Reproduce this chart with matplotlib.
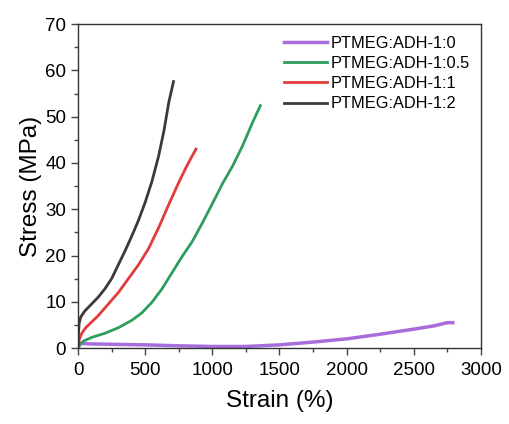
import matplotlib
matplotlib.use("Agg")

import matplotlib.pyplot as plt
from matplotlib.ticker import MultipleLocator

plt.rcParams["font.family"] = ["Liberation Sans", "DejaVu Sans"]

# strain (%) / stress (MPa)
strain_0 = [0, 20, 100, 300, 500, 750, 1000, 1250, 1500, 1750, 2000, 2250, 2500, 2650, 2750, 2790]
stress_0 = [0.3, 1.0, 0.9, 0.8, 0.7, 0.5, 0.35, 0.35, 0.7, 1.3, 2.0, 3.0, 4.1, 4.8, 5.5, 5.5]

strain_05 = [0, 15, 40, 100, 200, 300, 400, 475, 550, 625, 700, 775, 850, 925, 1000,
             1075, 1150, 1225, 1300, 1358]
stress_05 = [0, 0.8, 1.5, 2.3, 3.2, 4.4, 6.0, 7.6, 9.9, 12.8, 16.3, 19.8, 23.0, 27.0, 31.2,
             35.5, 39.3, 43.7, 48.8, 52.4]

strain_1 = [0, 10, 30, 60, 100, 150, 225, 300, 375, 450, 525, 600, 675, 750, 800, 840, 878]
stress_1 = [0, 2.0, 3.3, 4.5, 5.6, 7.0, 9.5, 12.0, 15.0, 18.0, 21.5, 26.0, 31.0, 35.8, 38.8, 41.0, 43.0]

strain_2 = [0, 3, 8, 20, 50, 100, 150, 200, 250, 300, 350, 400, 450, 500, 550, 600, 640, 675, 711]
stress_2 = [0, 3.0, 5.3, 6.7, 8.0, 9.5, 11.0, 12.8, 15.0, 18.0, 21.0, 24.2, 27.6, 31.5, 36.0,
            41.5, 47.0, 53.0, 57.6]

labels = ["PTMEG:ADH-1:0", "PTMEG:ADH-1:0.5", "PTMEG:ADH-1:1", "PTMEG:ADH-1:2"]
colors = ["#a66ddb", "#2e9e5e", "#e23b3b", "#3a3a3a"]


def main():
    fig = plt.figure(figsize=(5.1, 4.24), dpi=100)
    ax = fig.add_axes([0.153, 0.179, 0.79, 0.764])

    series = [(strain_0, stress_0), (strain_05, stress_05), (strain_1, stress_1), (strain_2, stress_2)]
    for (x, y), lab, c in zip(series, labels, colors):
        lw = 2.5 if c == colors[0] else 2.0
        ax.plot(x, y, color=c, lw=lw, label=lab)

    ax.set_xlim(0, 3000)
    ax.set_ylim(0, 70)
    ax.xaxis.set_major_locator(MultipleLocator(500))
    ax.xaxis.set_minor_locator(MultipleLocator(250))
    ax.yaxis.set_major_locator(MultipleLocator(10))
    ax.yaxis.set_minor_locator(MultipleLocator(5))
    ax.tick_params(which="major", direction="out", length=5, width=1, labelsize=13.5, color="#444444")
    ax.tick_params(which="minor", direction="out", length=3, width=1, color="#444444")
    ax.tick_params(axis="x", pad=5)
    for s in ax.spines.values():
        s.set_color("#333333")
        s.set_linewidth(1)

    ax.set_xlabel("Strain (%)", fontsize=17.5, labelpad=8)
    ax.set_ylabel("Stress (MPa)", fontsize=17.5, labelpad=2)

    ax.legend(loc="upper right", bbox_to_anchor=(1.0, 1.0), frameon=False, fontsize=11.8,
              handlelength=2.6, handletextpad=0.2, labelspacing=0.32, borderaxespad=0.3)

    fig.savefig("out.png", dpi=100)
    plt.close(fig)


if __name__ == "__main__":
    main()
